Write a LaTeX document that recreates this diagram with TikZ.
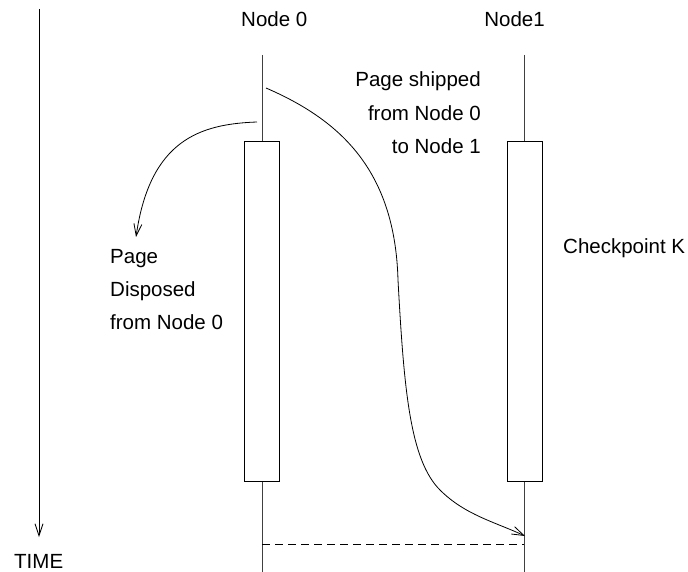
\documentclass[tikz,border=0pt]{standalone}
\usepackage{fontspec}
\setmainfont{Liberation Sans}
\usetikzlibrary{arrows.meta}
\begin{document}
\begin{tikzpicture}[x=1pt,y=-1pt,
  lbl/.style={inner sep=0pt,font=\fontsize{20.5}{24}\selectfont},
  life/.style={line width=0.9pt,black!75},
  bar/.style={draw,line width=0.9pt,fill=white,minimum width=35pt,minimum height=340pt,inner sep=0pt},
  msg/.style={line width=0.8pt,-{Straight Barb[length=12pt,width=8pt,line width=0.8pt]}}]
\useasboundingbox (0,0) rectangle (688,572);
% time axis
\coordinate (t0) at (39,9);
\coordinate (t1) at (39,537);
\draw[msg] (t0) -- (t1);
\node[lbl,anchor=base west] (time) at (14,568) {TIME};
% lifelines
\coordinate (n0top) at (262,55);
\coordinate (n0bot) at (262,572);
\coordinate (n1top) at (524,55);
\coordinate (n1bot) at (524,572);
\draw[life] (n0top) -- (n0bot);
\draw[life] (n1top) -- (n1bot);
\node[bar] (box0) at (262,311) {};
\node[bar] (box1) at (524.5,311) {};
\node[lbl,anchor=base west] (lab0) at (241,27) {Node 0};
\node[lbl,anchor=base east] (lab1) at (545,27) {Node1};
% dashed line
\coordinate (d0) at (262,544);
\coordinate (d1) at (524,544);
\draw[dashed,line width=0.8pt,dash pattern=on 8pt off 5pt] (d0) -- (d1);
% disposed arrow
\coordinate (ds) at (257,122);
\coordinate (de) at (136,237);
\draw[msg] (ds) .. controls (200,124) and (150,140) .. (de);
\node[lbl,anchor=base west] (p1) at (110,263) {Page};
\node[lbl,anchor=base west] (p2) at (110,296) {Disposed};
\node[lbl,anchor=base west] (p3) at (110,329) {from Node 0};
% shipped arrow
\coordinate (ss) at (266,88);
\coordinate (sm1) at (398,280);
\coordinate (sm2) at (440,490);
\coordinate (se) at (525,536);
\draw[msg] (ss) .. controls (340,120) and (395,170) .. (sm1)
  .. controls (404,390) and (410,460) .. (sm2)
  .. controls (465,515) and (495,522) .. (se);
\node[lbl,anchor=base east] (s1) at (481,87) {Page shipped};
\node[lbl,anchor=base east] (s2) at (481,121) {from Node 0};
\node[lbl,anchor=base east] (s3) at (481,154) {to Node 1};
\node[lbl,anchor=base west] (ck) at (563,253) {Checkpoint K};
\end{tikzpicture}
\end{document}
